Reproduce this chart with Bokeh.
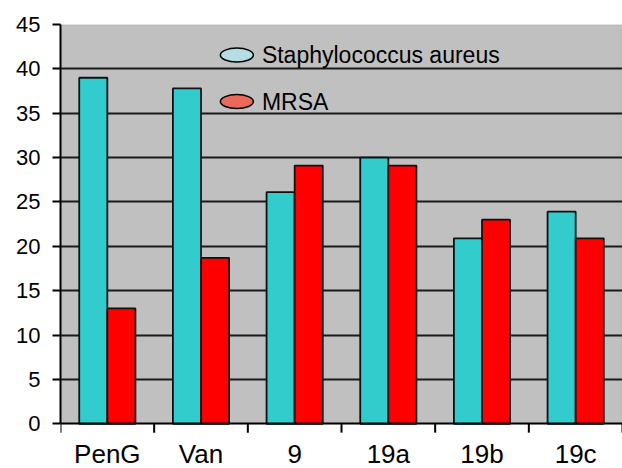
from bokeh.plotting import figure
from bokeh.models import Range1d, FixedTicker, ColumnDataSource, BoxAnnotation, Whisker
from bokeh.transform import dodge
from bokeh.core.properties import value
from bokeh.embed import file_html
from bokeh.resources import INLINE

# ---- data ----
categories = ["PenG", "Van", "9", "19a", "19b", "19c"]
staph_aureus = [39.0, 37.8, 26.1, 30.0, 20.9, 23.9]
mrsa = [13.0, 18.7, 29.1, 29.1, 23.0, 20.9]
series_names = ["Staphylococcus aureus", "MRSA"]
y_ticks = [0, 5, 10, 15, 20, 25, 30, 35, 40, 45]

TEAL = "#33CCCC"
RED = "#FF0000"
FONT = "Liberation Sans"
Y_MIN = -5.04    # room below the value axis for the category names
TICK_LEN = 1.0   # length of the category boundary tick marks (value units)

centers = [i + 0.5 for i in range(len(categories))]
boundaries = list(range(len(categories) + 1))
src = ColumnDataSource(dict(x=centers, s=staph_aureus, m=mrsa))

p = figure(width=622, height=468, output_backend="svg", toolbar_location=None,
           x_range=Range1d(0, len(categories)), y_range=Range1d(Y_MIN, 45),
           min_border_left=60, min_border_right=0, min_border_top=24,
           min_border_bottom=0)

p.background_fill_color = "white"
p.border_fill_color = "white"
p.outline_line_color = None

# grey plotting area (0..45) with a thin border, painted beneath the grid
p.add_layout(BoxAnnotation(bottom=0, top=45, fill_color="#C0C0C0", fill_alpha=1,
                           line_color="#9a9a9a", line_width=1.5, level="image"))

bw = 0.3
p.vbar(x=dodge("x", -bw / 2, range=p.x_range), top="s", width=bw, source=src,
       fill_color=TEAL, line_color="#111111", line_width=1.8)
p.vbar(x=dodge("x", bw / 2, range=p.x_range), top="m", width=bw, source=src,
       fill_color=RED, line_color="#111111", line_width=1.8)

# grid
p.xgrid.visible = False
p.ygrid.ticker = FixedTicker(ticks=y_ticks[1:-1])
p.ygrid.grid_line_color = "#1a1a1a"
p.ygrid.grid_line_width = 2

# y axis
ya = p.yaxis[0]
ya.ticker = FixedTicker(ticks=y_ticks)
ya.bounds = (0, 45)
ya.axis_line_color = "black"
ya.axis_line_width = 2
ya.major_tick_out = 8
ya.major_tick_in = 0
ya.major_tick_line_width = 2
ya.minor_tick_out = 0
ya.minor_tick_in = 0
ya.major_label_standoff = 12
ya.major_label_text_font = FONT
ya.major_label_text_font_size = "22px"
ya.major_label_text_color = "black"

# x axis at value 0: category names at centres
xa = p.xaxis[0]
xa.fixed_location = 0
xa.ticker = FixedTicker(ticks=centers, minor_ticks=[])
xa.major_label_overrides = {c: lab for c, lab in zip(centers, categories)}
xa.axis_line_color = "black"
xa.axis_line_width = 2
xa.major_tick_out = 0
xa.major_tick_in = 0
xa.minor_tick_out = 0
xa.minor_tick_in = 0
xa.major_label_standoff = 15
xa.major_label_text_font = FONT
xa.major_label_text_font_size = "26px"
xa.major_label_text_color = "black"

# tick marks at the category boundaries
tick_src = ColumnDataSource(dict(base=boundaries, lower=[-TICK_LEN] * len(boundaries),
                                 upper=[0] * len(boundaries)))
p.add_layout(Whisker(source=tick_src, base="base", lower="lower", upper="upper",
                     dimension="height", line_color="black", line_width=2,
                     lower_head=None, upper_head=None, level="overlay"))

# legend (drawn inside the plot area)
leg_x = 1.883
leg_text_x = 2.15
leg_y = [41.56, 36.32]
leg_fill = ["#B5DDE6", "#E96A5B"]
p.ellipse(x=[leg_x, leg_x], y=leg_y, width=33, height=14, width_units="screen",
          height_units="screen", fill_color=leg_fill, line_color="black", line_width=1.5)
p.text(x=[leg_text_x, leg_text_x], y=leg_y, text=series_names,
       text_font=value(FONT), text_font_size="23px", text_color="black",
       text_baseline="middle", text_align="left")

open("out.html", "w").write(file_html(p, INLINE))
